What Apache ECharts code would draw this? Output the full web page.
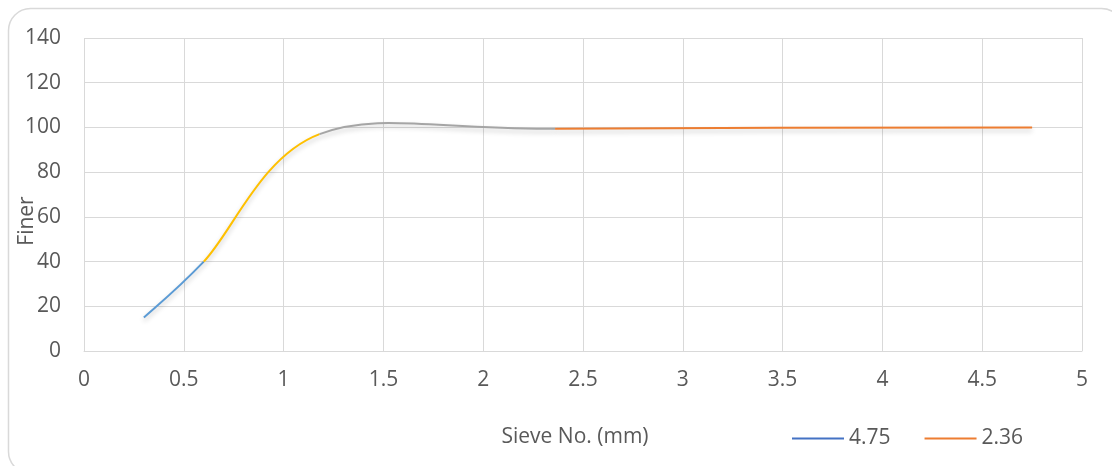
<!DOCTYPE html>
<html>
<head>
<meta charset="utf-8">
<script src="https://cdn.jsdelivr.net/npm/echarts@6/dist/echarts.min.js"></script>
<style>
html,body{margin:0;padding:0;background:#fff;}
#chart{width:1112px;height:466px;}
</style>
</head>
<body>
<div id="chart"></div>
<script>
// Sieve size (mm) and percent finer
const sieveSizes = [0.3, 0.6, 1.18, 2.36, 4.75];
const percentFiner = [15, 40, 97, 99.4, 100];
const xTicks = [0, 0.5, 1, 1.5, 2, 2.5, 3, 3.5, 4, 4.5, 5];
const yTicks = [0, 20, 40, 60, 80, 100, 120, 140];
const legendNames = ['4.75', '2.36'];
const segmentColors = ['#5B9BD5', '#FFC000', '#A5A5A5', '#ED7D31'];

const FONT = 'Open Sans';
const FS = 21;
const TXT = '#595959';
const GRID = '#d9d9d9';

const chart = echarts.init(document.getElementById('chart'));
const points = sieveSizes.map((x, i) => [x, percentFiner[i]]);

// Excel-like smoothed segment (Catmull-Rom style Bezier, arms limited to half segment)
function renderSegment(params, api) {
  const i = params.dataIndex;
  const n = points.length;
  if (i >= n - 1) return null;
  const P = points.map(p => api.coord(p));
  const p0 = P[Math.max(i - 1, 0)], p1 = P[i], p2 = P[i + 1], p3 = P[Math.min(i + 2, n - 1)];
  const segLen = Math.hypot(p2[0] - p1[0], p2[1] - p1[1]);
  let t1 = [(p2[0] - p0[0]) / 6, (p2[1] - p0[1]) / 6];
  let t2 = [(p3[0] - p1[0]) / 6, (p3[1] - p1[1]) / 6];
  const lim = (t) => {
    const L = Math.hypot(t[0], t[1]);
    const m = segLen / 2;
    return L > m ? [t[0] * m / L, t[1] * m / L] : t;
  };
  t1 = lim(t1); t2 = lim(t2);
  return {
    type: 'bezierCurve',
    shape: {
      x1: p1[0], y1: p1[1], x2: p2[0], y2: p2[1],
      cpx1: p1[0] + t1[0], cpy1: p1[1] + t1[1],
      cpx2: p2[0] - t2[0], cpy2: p2[1] - t2[1]
    },
    style: {
      fill: null, stroke: segmentColors[i], lineWidth: 2,
      shadowColor: 'rgba(0,0,0,0.22)', shadowBlur: 5, shadowOffsetY: 3
    }
  };
}

chart.setOption({
  animation: false,
  backgroundColor: '#fff',
  grid: {left: 84, right: 30, top: 38, bottom: 115, containLabel: false},
  xAxis: {
    type: 'value', min: xTicks[0], max: xTicks[xTicks.length - 1], interval: 0.5,
    axisLine: {show: true, lineStyle: {color: GRID, width: 1}},
    axisTick: {show: false},
    splitLine: {show: true, lineStyle: {color: GRID, width: 1}},
    axisLabel: {color: TXT, fontFamily: FONT, fontSize: FS, margin: 19}
  },
  yAxis: {
    type: 'value', min: yTicks[0], max: yTicks[yTicks.length - 1], interval: 20,
    axisLine: {show: false},
    axisTick: {show: false},
    splitLine: {show: true, lineStyle: {color: GRID, width: 1}},
    axisLabel: {color: TXT, fontFamily: FONT, fontSize: FS, margin: 23}
  },
  legend: {
    left: 787, top: 423,
    itemWidth: 52, itemHeight: 2, itemGap: 34,
    icon: 'rect',
    textStyle: {color: TXT, fontFamily: FONT, fontSize: FS},
    data: [
      {name: legendNames[0], itemStyle: {color: '#4472C4'}},
      {name: legendNames[1], itemStyle: {color: '#ED7D31'}}
    ]
  },
  series: [
    {
      name: legendNames[0], type: 'custom', data: points, color: '#4472C4',
      encode: {x: 0, y: 1}, renderItem: renderSegment
    },
    {
      name: legendNames[1], type: 'line', data: [], color: '#ED7D31', showSymbol: false
    }
  ],
  graphic: [
    {type: 'rect', shape: {x: 8.5, y: 8.5, width: 1115, height: 465, r: 22},
     style: {fill: 'none', stroke: GRID, lineWidth: 1.5}, z: -1},
    {type: 'text', x: 27, y: 221, rotation: Math.PI / 2,
     style: {text: 'Finer', fill: TXT, font: FS + 'px "Open Sans"', align: 'center', verticalAlign: 'middle'}},
    {type: 'text', x: 575, y: 437,
     style: {text: 'Sieve No. (mm)', fill: TXT, font: FS + 'px "Open Sans"', align: 'center', verticalAlign: 'middle'}}
  ]
});
</script>
</body>
</html>
